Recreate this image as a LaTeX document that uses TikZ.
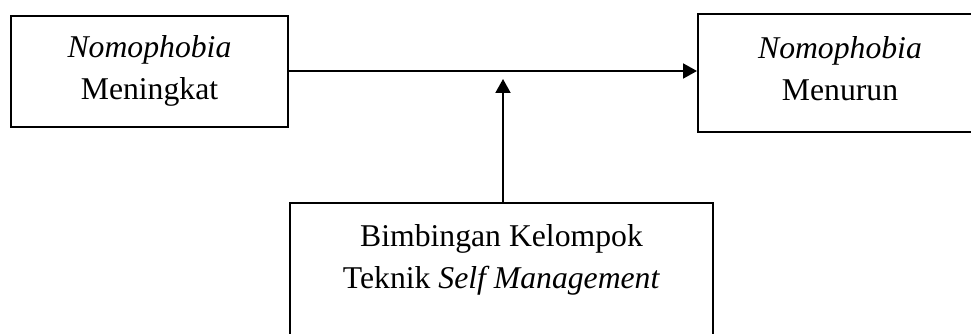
\documentclass[tikz,border=0pt]{standalone}
\usepackage{fontspec}
\setmainfont{Liberation Serif}
\usetikzlibrary{arrows.meta,positioning}
\tikzset{
  kotak/.style={draw,line width=2pt,inner sep=0pt},
  teks/.style={align=center,inner sep=0pt,anchor=north,
    font=\fontsize{31.7}{41.8}\selectfont}
}

\begin{document}
\begin{tikzpicture}[x=1pt,y=-1pt,>={Triangle[length=14pt,width=15pt]},line width=2pt]
\useasboundingbox (0,0) rectangle (971,334);
\clip (0,0) rectangle (971,334);
% kotak kiri, kanan, bawah
\node[kotak,minimum width=277pt,minimum height=111pt] (awal) at (149.5,71.5) {};
\node[kotak,minimum width=284pt,minimum height=118pt] (akhir) at (840,73) {};
\node[kotak,minimum width=423pt,minimum height=157pt] (bimbingan) at (501.5,281.5) {};
\node[teks] (awaltxt) at (149.5,34.6) {\textit{Nomophobia}\\Meningkat};
\node[teks] (akhirtxt) at (840,35.4) {\textit{Nomophobia}\\Menurun};
\node[teks] (bimbtxt) at (501.5,223.4) {Bimbingan Kelompok\\Teknik \textit{Self Management}};
% panah
\coordinate (garis) at (0,71);
\coordinate (ujung) at (503,79);
\draw[->] (awal.east |- garis) -- (akhir.west |- garis);
\draw[->] (ujung |- bimbingan.north) -- (ujung);
\end{tikzpicture}
\end{document}
